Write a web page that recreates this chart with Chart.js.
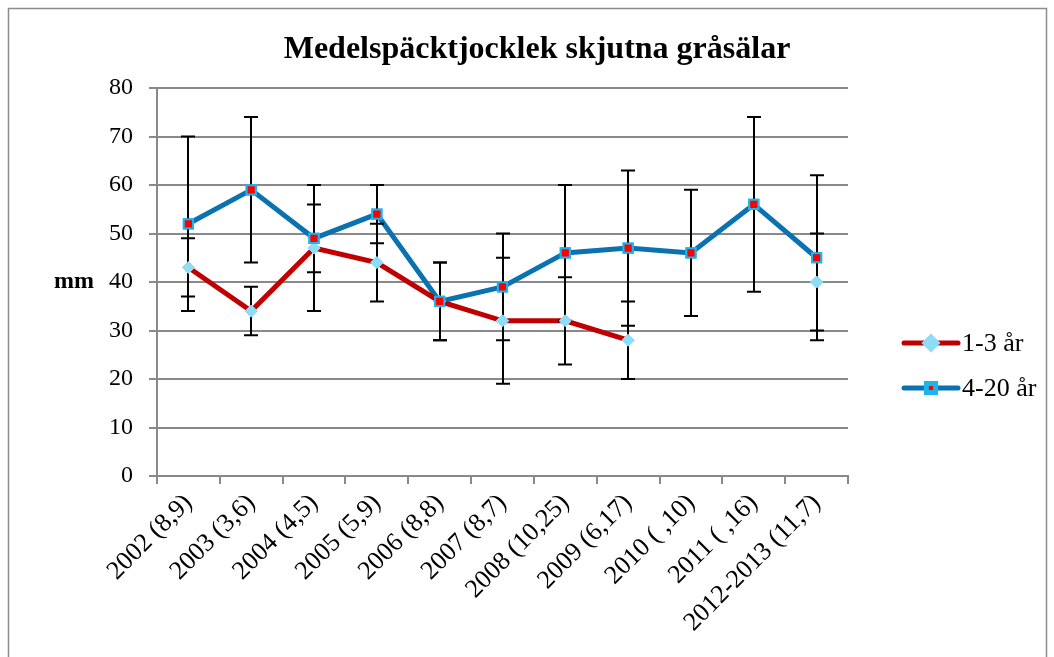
<!DOCTYPE html>
<html>
<head>
<meta charset="utf-8">
<script src="https://cdn.jsdelivr.net/npm/chart.js@4/dist/chart.umd.min.js"></script>
<style>
  body { margin: 0; background: #fff; }
  #wrap { width: 1054px; height: 657px; }
</style>
</head>
<body>
<div id="wrap"><canvas id="canvas" width="1054" height="657"></canvas></div>
<script>
"use strict";

// data
const categories = ["2002 (8,9)", "2003 (3,6)", "2004 (4,5)", "2005 (5,9)", "2006 (8,8)", "2007 (8,7)",
    "2008 (10,25)", "2009 (6,17)", "2010 ( ,10)", "2011 ( ,16)", "2012-2013 (11,7)"];
const youngValues = [43, 34, 47, 44, 36, 32, 32, 28, null, null, 40];
const youngErrors = [6, 5, 13, 8, 8, 13, 9, 8, null, null, 10];
const adultValues = [52, 59, 49, 54, 36, 39, 46, 47, 46, 56, 45];
const adultErrors = [18, 15, 7, 6, 8, 11, 14, 16, 13, 18, 17];
const yTicks = [0, 10, 20, 30, 40, 50, 60, 70, 80];
const errors = [youngErrors, adultErrors];

const serif = '"Liberation Serif", "Times New Roman", serif';
const gridColor = '#898989';

// border, title, axis title, error bars and legend
const extrasPlugin = {
    id: 'extras',
    beforeDraw(chart) {
        let ctx = chart.ctx;
        ctx.save();
        ctx.fillStyle = '#fff';
        ctx.fillRect(0, 0, chart.width, chart.height);
        ctx.strokeStyle = '#8c8c8c';
        ctx.lineWidth = 1.5;
        ctx.strokeRect(8.5, 8.5, 1038, 680);

        ctx.fillStyle = '#000';
        ctx.textAlign = 'center';
        ctx.textBaseline = 'middle';
        ctx.font = 'bold 32px ' + serif;
        ctx.fillText('Medelspäcktjocklek skjutna gråsälar', 537, 50);

        let area = chart.chartArea;
        ctx.font = 'bold 24px ' + serif;
        ctx.fillText('mm', 74, (area.top + area.bottom) / 2);
        ctx.restore();
    },
    afterDatasetsDraw(chart) {
        let ctx = chart.ctx;
        let y = chart.scales.y;
        ctx.save();
        ctx.strokeStyle = '#000';
        ctx.lineWidth = 2;
        chart.data.datasets.forEach((ds, i) => {
            let meta = chart.getDatasetMeta(i);
            ds.data.forEach((v, j) => {
                let e = errors[i][j];
                if (v === null || e === null) return;
                let x = Math.round(meta.data[j].x);
                let top = y.getPixelForValue(v + e);
                let bot = y.getPixelForValue(v - e);
                ctx.beginPath();
                ctx.moveTo(x, top);
                ctx.lineTo(x, bot);
                ctx.moveTo(x - 7, top);
                ctx.lineTo(x + 7, top);
                ctx.moveTo(x - 7, bot);
                ctx.lineTo(x + 7, bot);
                ctx.stroke();
            });
        });
        ctx.restore();

        // markers back on top of the bars
        chart.data.datasets.forEach((ds, i) => {
            chart.getDatasetMeta(i).data.forEach(p => {
                if (!p.skip) p.draw(ctx, chart.chartArea);
            });
        });

        // legend
        ctx.save();
        chart.data.datasets.forEach((ds, i) => {
            let rowY = 343 + i * 45;
            ctx.strokeStyle = ds.borderColor;
            ctx.lineWidth = 5;
            ctx.lineCap = 'round';
            ctx.beginPath();
            ctx.moveTo(904, rowY);
            ctx.lineTo(958, rowY);
            ctx.stroke();
            ctx.fillStyle = ds.pointBackgroundColor;
            ctx.strokeStyle = ds.pointBorderColor;
            Chart.helpers.drawPoint(ctx, {
                pointStyle: ds.pointStyle,
                radius: ds.pointRadius,
                rotation: 0,
                borderWidth: ds.pointBorderWidth
            }, 931, rowY);
            ctx.fillStyle = '#000';
            ctx.font = '26px ' + serif;
            ctx.textAlign = 'left';
            ctx.textBaseline = 'middle';
            ctx.fillText(ds.label, 962, rowY + 1);
        });
        ctx.restore();
    }
};

let myChart = new Chart(document.getElementById('canvas'), {
    type: 'line',
    data: {
        labels: categories,
        datasets: [{
            label: '1-3 år',
            data: youngValues,
            borderColor: '#c00000',
            borderWidth: 5,
            pointStyle: 'rectRot',
            pointRadius: 6,
            pointBackgroundColor: '#8fdcf6',
            pointBorderColor: '#8fdcf6',
            pointBorderWidth: 1,
            spanGaps: false
        }, {
            label: '4-20 år',
            data: adultValues,
            borderColor: '#0a72b0',
            borderWidth: 5,
            pointStyle: 'rect',
            pointRadius: 6.5,
            pointBackgroundColor: '#ff0000',
            pointBorderColor: '#1eb4ec',
            pointBorderWidth: 2
        }]
    },
    options: {
        responsive: false,
        animation: false,
        layout: { padding: { top: 88, left: 0, right: 206, bottom: 0 } },
        plugins: {
            legend: { display: false },
            title: { display: false },
            tooltip: { enabled: false }
        },
        scales: {
            x: {
                offset: true,
                grid: { offset: true, drawOnChartArea: false, color: gridColor, lineWidth: 2, tickLength: 8 },
                border: { color: gridColor, width: 2 },
                ticks: {
                    color: '#000',
                    font: { family: serif, size: 26 },
                    minRotation: 45,
                    maxRotation: 45,
                    autoSkip: false,
                    padding: 4
                },
                afterFit(scale) { scale.height = 181; }
            },
            y: {
                min: 0,
                max: 80,
                afterBuildTicks(scale) { scale.ticks = yTicks.map(v => ({ value: v })); },
                grid: { color: gridColor, lineWidth: 2, tickLength: 8 },
                border: { color: gridColor, width: 2 },
                ticks: { color: '#000', font: { family: serif, size: 24 }, padding: 16 },
                afterFit(scale) { scale.width = 157; }
            }
        }
    },
    plugins: [extrasPlugin]
});
</script>
</body>
</html>
